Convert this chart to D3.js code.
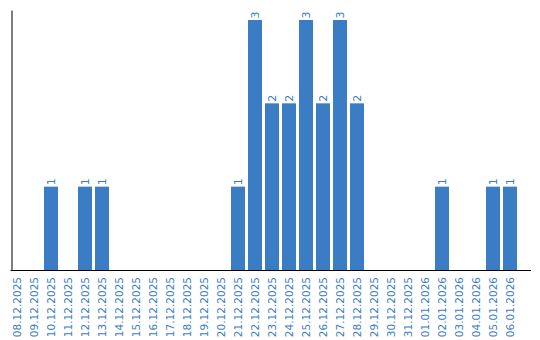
<!DOCTYPE html>
<html>
<head>
<meta charset="utf-8">
<script src="https://cdn.jsdelivr.net/npm/d3@7"></script>
<style>
  body { margin: 0; background: #fff; }
  text { font-family: "DejaVu Sans", Verdana, sans-serif; }
</style>
</head>
<body>
<div id="vis"></div>
<script>
// dates shown on the x axis
var dates = ["08.12.2025", "09.12.2025", "10.12.2025", "11.12.2025", "12.12.2025",
  "13.12.2025", "14.12.2025", "15.12.2025", "16.12.2025", "17.12.2025",
  "18.12.2025", "19.12.2025", "20.12.2025", "21.12.2025", "22.12.2025",
  "23.12.2025", "24.12.2025", "25.12.2025", "26.12.2025", "27.12.2025",
  "28.12.2025", "29.12.2025", "30.12.2025", "31.12.2025", "01.01.2026",
  "02.01.2026", "03.01.2026", "04.01.2026", "05.01.2026", "06.01.2026"];

// count per day
var counts = [0, 0, 1, 0, 1, 1, 0, 0, 0, 0,
  0, 0, 0, 1, 3, 2, 2, 3, 2, 3,
  2, 0, 0, 0, 0, 1, 0, 0, 1, 1];

var width = 540;
var height = 340;
var barColor = '#3b7dc4';

var data = dates.map(function (d, i) { return { date: d, value: counts[i] }; });

var svg = d3.select('#vis')
  .append('svg')
  .attr('width', width)
  .attr('height', height);

var x = d3.scaleBand()
  .domain(dates)
  .range([8.5, 518.5])
  .paddingInner(3 / 17)
  .paddingOuter(3 / 34);

var y = d3.scaleLinear()
  .domain([0, 3.12])
  .range([270, 10]);

// bars
svg.selectAll('.bar')
  .data(data.filter(function (d) { return d.value > 0; }))
  .enter().append('rect')
  .attr('class', 'bar')
  .attr('x', function (d) { return x(d.date); })
  .attr('y', function (d) { return y(d.value); })
  .attr('width', x.bandwidth())
  .attr('height', function (d) { return y(0) - y(d.value); })
  .attr('fill', barColor);

// value labels above bars
svg.selectAll('.val')
  .data(data.filter(function (d) { return d.value > 0; }))
  .enter().append('text')
  .attr('class', 'val')
  .attr('transform', function (d) {
    return 'translate(' + (x(d.date) + x.bandwidth() / 2 + 4) + ',' + (y(d.value) - 1.5) + ') rotate(-90)';
  })
  .attr('font-size', '11px')
  .attr('fill', barColor)
  .text(function (d) { return d.value; });

// x axis
var xAxis = svg.append('g')
  .attr('transform', 'translate(0,' + y(0) + ')')
  .call(d3.axisBottom(x).tickSize(0).tickPadding(0));

xAxis.select('.domain')
  .attr('d', 'M10.5,0.5H531')
  .attr('stroke', '#000');

xAxis.selectAll('text')
  .attr('font-size', '10.5px')
  .attr('font-family', '"DejaVu Sans", Verdana, sans-serif')
  .attr('fill', barColor)
  .attr('text-anchor', 'end')
  .attr('dy', null)
  .attr('transform', 'translate(4,7) rotate(-90)');

// y axis, just the line
var yAxis = svg.append('g')
  .attr('transform', 'translate(11.5,0)')
  .call(d3.axisLeft(y).ticks(0).tickSize(0));

yAxis.select('.domain').attr('stroke', '#000');
</script>
</body>
</html>
